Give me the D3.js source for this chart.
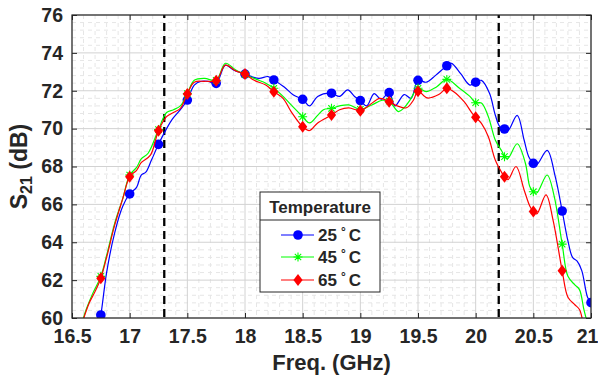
<!DOCTYPE html>
<html lang="en">
<head>
<meta charset="UTF-8">
<title>S21 vs frequency</title>
<script src="https://d3js.org/d3.v7.min.js"></script>
<style>
  body { margin: 0; background: #fff; }
  text { font-family: "Liberation Sans", Arial, sans-serif; font-weight: bold; fill: #262626; }
</style>
</head>
<body>
<svg width="598" height="379"></svg>
<script>
// tick values
const xTicks = [16.5, 17, 17.5, 18, 18.5, 19, 19.5, 20, 20.5, 21];
const yTicks = [60, 62, 64, 66, 68, 70, 72, 74, 76];
const bandEdges = [17.3, 20.2];

// marker positions (every 0.25 GHz)
const markerFreq = [16.75, 17, 17.25, 17.5, 17.75, 18, 18.25, 18.5, 18.75, 19, 19.25, 19.5, 19.75, 20, 20.25, 20.5, 20.75, 21];
const marks25 = [60.16, 66.55, 69.17, 71.51, 72.39, 72.88, 72.57, 71.55, 71.87, 71.48, 71.9, 72.55, 73.32, 72.45, 69.98, 68.17, 65.65, 60.81];
const marks45 = [62.2, 67.55, 69.95, 71.85, 72.55, 72.86, 72.13, 70.63, 71.07, 71.02, 71.45, 72.13, 72.6, 71.37, 68.52, 66.67, 63.9, 59.5];
const marks65 = [62.1, 67.46, 69.89, 71.83, 72.53, 72.88, 71.95, 70.1, 70.72, 70.95, 71.42, 71.98, 72.13, 70.6, 67.46, 65.62, 62.5, 59.0];

// measured traces [freq, S21]
const line25 = [[16.73, 59.6], [16.75, 60.16], [16.8, 62.4], [16.87, 64.5], [16.94, 65.9], [17, 66.55], [17.06, 66.9],
  [17.1, 67.55], [17.14, 67.7], [17.19, 68.35], [17.25, 69.17], [17.32, 70.0], [17.37, 70.5], [17.44, 71.0], [17.5, 71.51],
  [17.56, 72.3], [17.62, 72.5], [17.68, 72.5], [17.75, 72.39], [17.83, 73.35], [17.9, 73.1], [18, 72.88], [18.12, 72.65],
  [18.2, 72.75], [18.25, 72.57], [18.34, 72.2], [18.42, 71.77], [18.5, 71.55], [18.56, 71.2], [18.63, 71.7], [18.75, 71.87],
  [18.82, 71.7], [18.89, 72.05], [18.95, 71.7], [19, 71.48], [19.055, 71.2], [19.12, 71.85], [19.18, 71.55], [19.25, 71.9],
  [19.3, 71.2], [19.38, 71.8], [19.44, 71.6], [19.5, 72.55], [19.57, 72.45], [19.65, 72.8], [19.75, 73.32], [19.79, 73.45],
  [19.87, 72.9], [19.95, 72.3], [20, 72.45], [20.05, 72.55], [20.12, 71.87], [20.17, 70.72], [20.21, 70.1], [20.25, 69.98],
  [20.28, 69.9], [20.36, 70.7], [20.42, 69.4], [20.46, 68.52], [20.5, 68.17], [20.53, 68.1], [20.62, 68.85], [20.69, 67.46],
  [20.75, 65.65], [20.8, 64.07], [20.84, 63.2], [20.88, 63.0], [20.92, 62.5], [20.97, 61.1], [21, 60.81]];

const line45 = [[16.58, 59.6], [16.62, 60.4], [16.68, 61.3], [16.75, 62.2], [16.8, 63.3], [16.87, 65.0], [16.94, 66.3],
  [17, 67.55], [17.06, 67.95], [17.1, 68.4], [17.16, 68.7], [17.25, 69.95], [17.32, 70.85], [17.38, 71.0], [17.44, 71.2],
  [17.5, 71.85], [17.56, 72.55], [17.65, 72.65], [17.75, 72.55], [17.83, 73.45], [17.92, 73.1], [18, 72.86], [18.1, 72.6],
  [18.18, 72.4], [18.25, 72.13], [18.33, 71.7], [18.4, 71.25], [18.5, 70.63], [18.56, 70.3], [18.63, 70.7], [18.68, 71.0],
  [18.75, 71.07], [18.82, 71.2], [18.9, 71.25], [19, 71.02], [19.1, 71.25], [19.19, 71.5], [19.25, 71.45], [19.33, 70.9],
  [19.38, 71.1], [19.43, 71.5], [19.5, 72.13], [19.57, 71.95], [19.66, 72.2], [19.75, 72.6], [19.86, 72.13], [19.95, 71.7],
  [20, 71.37], [20.05, 71.35], [20.11, 70.63], [20.17, 69.4], [20.23, 68.78], [20.25, 68.52], [20.28, 68.43], [20.36, 69.2],
  [20.43, 68.2], [20.47, 66.93], [20.5, 66.67], [20.53, 66.6], [20.62, 67.55], [20.68, 66.45], [20.75, 63.9], [20.8, 62.2],
  [20.86, 61.75], [20.9, 61.5], [20.94, 60.4], [20.98, 59.5]];

const line65 = [[16.57, 59.4], [16.65, 60.8], [16.7, 61.4], [16.75, 62.1], [16.8, 63.2], [16.87, 64.9], [16.94, 66.3],
  [17, 67.46], [17.06, 67.8], [17.1, 68.2], [17.18, 68.6], [17.25, 69.89], [17.32, 70.63], [17.38, 70.85], [17.44, 71.07],
  [17.5, 71.83], [17.56, 72.45], [17.65, 72.5], [17.75, 72.53], [17.83, 73.35], [17.92, 73.05], [18, 72.88], [18.08, 72.55],
  [18.18, 72.3], [18.25, 71.95], [18.33, 71.6], [18.4, 70.9], [18.5, 70.1], [18.56, 69.9], [18.63, 70.3], [18.75, 70.72],
  [18.82, 71.0], [18.9, 71.1], [19, 70.95], [19.08, 71.25], [19.17, 71.6], [19.25, 71.42], [19.32, 71.2], [19.4, 71.1],
  [19.46, 71.5], [19.5, 71.98], [19.58, 71.62], [19.68, 71.8], [19.75, 72.13], [19.81, 71.95], [19.9, 71.42], [19.97, 70.81],
  [20, 70.6], [20.05, 70.28], [20.11, 69.57], [20.17, 68.34], [20.23, 67.64], [20.25, 67.46], [20.28, 67.3], [20.35, 68.0],
  [20.42, 66.76], [20.47, 65.9], [20.5, 65.62], [20.53, 65.5], [20.61, 66.5], [20.67, 65.2], [20.75, 62.5], [20.8, 61.1],
  [20.86, 60.7], [20.9, 60.45], [20.93, 59.8], [20.96, 59.0]];

const temps = ["25", "45", "65"];
const colors = ["#0000ff", "#00ff00", "#ff0000"];
const markerKinds = ["circle", "star", "diamond"];

const svg = d3.select("svg");
const pLeft = 72, pRight = 591, pTop = 15, pBottom = 318;

const x = d3.scaleLinear().domain([16.5, 21]).range([pLeft, pRight]);
const y = d3.scaleLinear().domain([60, 76]).range([pBottom, pTop]);

svg.append("defs").append("clipPath").attr("id", "plotclip")
  .append("rect").attr("x", pLeft).attr("y", pTop).attr("width", pRight - pLeft).attr("height", pBottom - pTop);

// minor grid
const minorX = d3.range(16.5, 21.001, 0.1).filter(v => Math.abs(v * 2 - Math.round(v * 2)) > 0.01);
const minorY = d3.range(60, 76.001, 0.4).filter(v => Math.abs(v / 2 - Math.round(v / 2)) > 0.01);
const grid = svg.append("g");
grid.selectAll(".mx").data(minorX).enter().append("line")
  .attr("x1", d => x(d)).attr("x2", d => x(d)).attr("y1", pTop).attr("y2", pBottom)
  .attr("stroke", "#e6e6e6").attr("stroke-dasharray", "4,4");
grid.selectAll(".my").data(minorY).enter().append("line")
  .attr("y1", d => y(d)).attr("y2", d => y(d)).attr("x1", pLeft).attr("x2", pRight)
  .attr("stroke", "#e6e6e6").attr("stroke-dasharray", "4,4");
// major grid
grid.selectAll(".gx").data(xTicks).enter().append("line")
  .attr("x1", d => x(d)).attr("x2", d => x(d)).attr("y1", pTop).attr("y2", pBottom)
  .attr("stroke", "#d2d2d2");
grid.selectAll(".gy").data(yTicks).enter().append("line")
  .attr("y1", d => y(d)).attr("y2", d => y(d)).attr("x1", pLeft).attr("x2", pRight)
  .attr("stroke", "#d2d2d2");

// band edge markers
svg.selectAll(".edge").data(bandEdges).enter().append("line")
  .attr("x1", d => x(d)).attr("x2", d => x(d)).attr("y1", y(76)).attr("y2", y(60))
  .attr("stroke", "#000").attr("stroke-width", 2.3).attr("stroke-dasharray", "8,5")
  .attr("stroke-dashoffset", -8);

// marker drawing
function drawMarker(g, kind, color) {
  if (kind === "circle") {
    g.append("circle").attr("r", 4.8).attr("fill", color);
  } else if (kind === "diamond") {
    g.append("path").attr("d", "M0,-6L4.6,0L0,6L-4.6,0Z").attr("fill", color);
  } else {
    g.append("path").attr("d", "M-4.5,0H4.5M0,-4.5V4.5M-3.2,-3.2L3.2,3.2M-3.2,3.2L3.2,-3.2")
      .attr("stroke", color).attr("stroke-width", 1.1).attr("fill", "none");
  }
}

const lines = [line25, line45, line65];
const marks = [marks25, marks45, marks65];
const lineGen = d3.line().x(d => x(d[0])).y(d => y(d[1])).curve(d3.curveCatmullRom.alpha(0.5));

const plot = svg.append("g").attr("clip-path", "url(#plotclip)");
lines.forEach((ln, i) => {
  plot.append("path").datum(ln).attr("d", lineGen)
    .attr("fill", "none").attr("stroke", colors[i]).attr("stroke-width", 1.2);
  const pts = markerFreq.map((f, j) => [f, marks[i][j]]).filter(p => p[1] >= 60);
  pts.forEach(p => {
    const g = plot.append("g").attr("transform", `translate(${x(p[0])},${y(p[1])})`);
    drawMarker(g, markerKinds[i], colors[i]);
  });
});

// axes (ticks inside)
const fmt = d => String(d);
const axB = svg.append("g").attr("transform", `translate(0,${pBottom})`)
  .call(d3.axisBottom(x).tickValues(xTicks).tickSize(-5).tickPadding(11).tickFormat(fmt));
const axT = svg.append("g").attr("transform", `translate(0,${pTop})`)
  .call(d3.axisTop(x).tickValues(xTicks).tickSize(-5).tickFormat(""));
const axL = svg.append("g").attr("transform", `translate(${pLeft},0)`)
  .call(d3.axisLeft(y).tickValues(yTicks).tickSize(-5).tickPadding(9).tickFormat(fmt));
const axR = svg.append("g").attr("transform", `translate(${pRight},0)`)
  .call(d3.axisRight(y).tickValues(yTicks).tickSize(-5).tickFormat(""));
[axB, axT, axL, axR].forEach(a => {
  a.select(".domain").remove();
  a.selectAll(".tick line").attr("stroke", "#262626");
  a.selectAll("text").attr("font-size", 19.5).attr("font-family", "Liberation Sans, Arial, sans-serif")
    .attr("font-weight", "bold").attr("fill", "#262626");
});
// keep the last x label inside the page
axB.selectAll(".tick text").filter(d => d === 21).attr("dx", -4);

svg.append("rect").attr("x", pLeft).attr("y", pTop).attr("width", pRight - pLeft).attr("height", pBottom - pTop)
  .attr("fill", "none").attr("stroke", "#262626").attr("stroke-width", 1.2);

// axis labels
svg.append("text").attr("x", (pLeft + pRight) / 2).attr("y", 370).attr("text-anchor", "middle")
  .attr("font-size", 22).text("Freq. (GHz)");
const yl = svg.append("text").attr("transform", `translate(27,${(pTop + pBottom) / 2}) rotate(-90)`)
  .attr("text-anchor", "middle").attr("font-size", 23);
yl.append("tspan").text("S");
yl.append("tspan").attr("font-size", 16).attr("dy", 5).text("21");
yl.append("tspan").attr("dy", -5).text(" (dB)");

// legend
const lg = svg.append("g");
lg.append("rect").attr("x", 260).attr("y", 192).attr("width", 120).attr("height", 100)
  .attr("fill", "#fff").attr("stroke", "#262626").attr("stroke-width", 1);
lg.append("line").attr("x1", 260).attr("x2", 380).attr("y1", 220).attr("y2", 220)
  .attr("stroke", "#262626").attr("stroke-width", 1);
lg.append("text").attr("x", 320).attr("y", 213).attr("text-anchor", "middle")
  .attr("font-size", 17).attr("fill", "#000").text("Temperature");
const rowY = [235, 257, 280];
temps.forEach((t, i) => {
  const r = lg.append("g").attr("transform", `translate(0,${rowY[i]})`);
  r.append("line").attr("x1", 281).attr("x2", 314).attr("stroke", colors[i]).attr("stroke-width", 1.2);
  drawMarker(r.append("g").attr("transform", "translate(298,0)"), markerKinds[i], colors[i]);
  const tx = r.append("text").attr("x", 318).attr("y", 6).attr("font-size", 17).attr("fill", "#000");
  tx.append("tspan").text(t);
  tx.append("tspan").attr("font-size", 12).attr("dx", 4).attr("dy", -5).text("°");
  tx.append("tspan").attr("dx", 3).attr("dy", 5).text("C");
});
</script>
</body>
</html>
